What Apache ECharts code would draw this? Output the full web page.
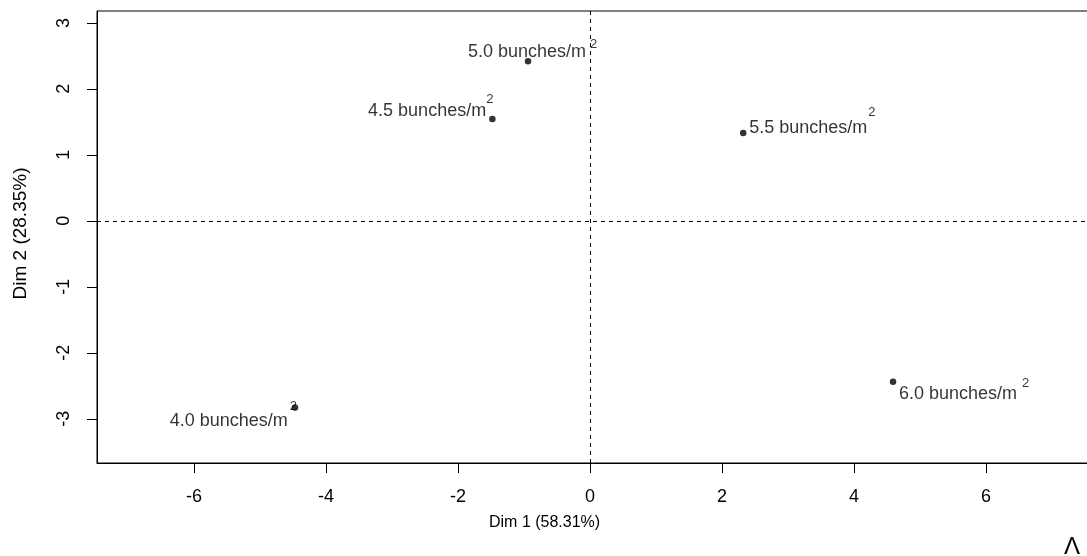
<!DOCTYPE html>
<html>
<head>
<meta charset="utf-8">
<script src="https://cdn.jsdelivr.net/npm/echarts@6/dist/echarts.min.js"></script>
<style>html,body{margin:0;padding:0;background:#fff;}#c{width:1087px;height:556px;}</style>
</head>
<body>
<div id="c"></div>
<script>
// Data
const densities = ['4.0', '4.5', '5.0', '5.5', '6.0'];
const unitLabel = 'bunches/m';
const dim1 = [-4.47, -1.48, -0.94, 2.32, 4.59];
const dim2 = [-2.83, 1.545, 2.42, 1.33, -2.44];
const xTicks = [-6, -4, -2, 0, 2, 4, 6];
const yTicks = [-3, -2, -1, 0, 1, 2, 3];

// Label placement styles (relative to each point)
const labelStyles = [
  {align: 'right', offset: [2, 13], supPad: [0, 0, 28, 2]},
  {align: 'right', offset: [1, -8], supPad: [0, 0, 23, 0]},
  {align: 'left', offset: [-60, -9], supPad: [0, 0, 15, 4]},
  {align: 'left', offset: [6, -5], supPad: [0, 0, 32, 1]},
  {align: 'left', offset: [6, 12], supPad: [0, 0, 21, 5]}
];

const FONT = 'Liberation Sans, Arial, sans-serif';
const data = densities.map((d, i) => ({
  value: [dim1[i], dim2[i]],
  name: d + ' ' + unitLabel,
  label: {
    show: true,
    position: 'inside',
    align: labelStyles[i].align,
    verticalAlign: 'middle',
    offset: labelStyles[i].offset,
    color: '#000',
    formatter: '{a|' + d + ' ' + unitLabel + '}{s|2}',
    rich: {
      a: {fontSize: 18, fontFamily: FONT, color: '#000', verticalAlign: 'middle'},
      s: {fontSize: 13, fontFamily: FONT, color: '#000', padding: labelStyles[i].supPad, verticalAlign: 'top'}
    }
  }
}));

const chart = echarts.init(document.getElementById('c'), null, {renderer: 'canvas'});
chart.setOption({
  animation: false,
  backgroundColor: '#fff',
  grid: {left: 97, top: 11, width: 1000, height: 452, show: true, borderColor: '#000', borderWidth: 1,
         containLabel: false, outerBoundsMode: 'none'},
  xAxis: {
    type: 'value', min: -7.47, max: 7.68,
    axisLine: {show: true, onZero: false, lineStyle: {color: '#000', width: 1}},
    axisTick: {show: true, length: 10, customValues: xTicks, lineStyle: {color: '#000', width: 1}},
    axisLabel: {show: true, customValues: xTicks, margin: 25, fontSize: 18, fontFamily: FONT, color: '#000'},
    splitLine: {show: false}
  },
  yAxis: {
    type: 'value', min: -3.67, max: 3.18,
    axisLine: {show: true, onZero: false, lineStyle: {color: '#000', width: 1}},
    axisTick: {show: true, length: 10, customValues: yTicks, lineStyle: {color: '#000', width: 1}},
    axisLabel: {show: true, customValues: yTicks, rotate: 90, margin: 24, fontSize: 18, fontFamily: FONT, color: '#000'},
    splitLine: {show: false},
    name: 'Dim 2 (28.35%)', nameLocation: 'middle', nameGap: 67, nameRotate: 90,
    nameTextStyle: {fontSize: 19, fontFamily: FONT, color: '#000', padding: [0, 0, 0, 7]}
  },
  graphic: [
    {type: 'text', left: 489, top: 515, style: {text: 'Dim 1 (58.31%)', font: '16px ' + FONT, fill: '#000'}},
    {type: 'text', left: 1064, top: 535, style: {text: 'Λ', font: '24px ' + FONT, fill: '#000'}}
  ],
  series: [{
    type: 'scatter',
    symbol: 'circle',
    symbolSize: 6.5,
    itemStyle: {color: '#000'},
    data: data,
    markLine: {
      silent: true, symbol: 'none', label: {show: false},
      lineStyle: {color: '#000', width: 1, type: [4, 4]},
      data: [{xAxis: 0}, {yAxis: 0}]
    }
  }]
});
</script>
</body>
</html>
